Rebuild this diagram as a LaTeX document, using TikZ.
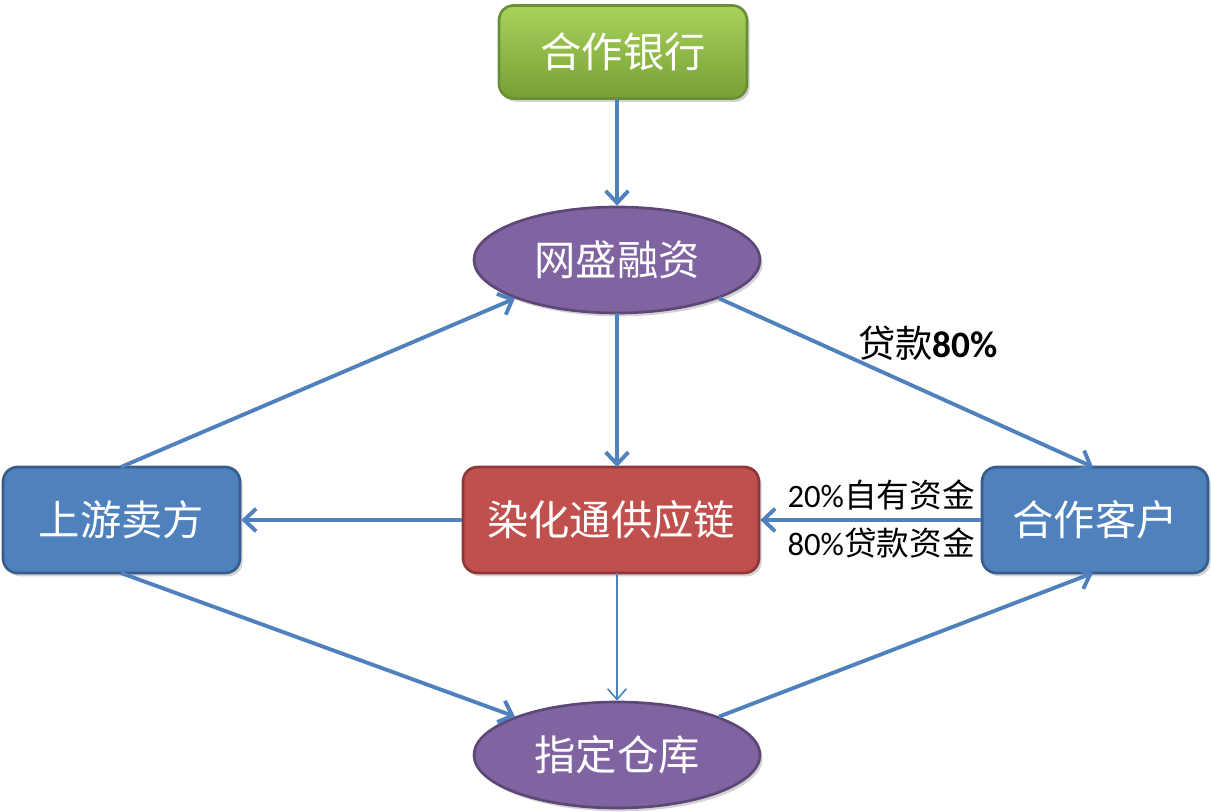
\documentclass[tikz,border=0pt]{standalone}
\usepackage{fontspec}
\setmainfont{Noto Sans CJK SC}
\newfontfamily\latinf{Carlito}
\usetikzlibrary{shapes.geometric,arrows.meta,shadows}
\definecolor{lnblue}{HTML}{4F81BD}
\definecolor{bxblue}{HTML}{4F81BD}
\definecolor{bdblue}{HTML}{385D8A}
\definecolor{bxred}{HTML}{C0504D}
\definecolor{bdred}{HTML}{8C3836}
\definecolor{bxpurple}{HTML}{8064A2}
\definecolor{bdpurple}{HTML}{5C4776}
\definecolor{grtop}{HTML}{A9D25C}
\definecolor{grbot}{HTML}{76A034}
\definecolor{bdgreen}{HTML}{6A8E35}
\tikzset{
  shad/.style={drop shadow={shadow xshift=2pt,shadow yshift=-2.5pt,opacity=0.35}},
  lab/.style={text=white,font=\fontsize{31}{34}\selectfont,inner sep=0pt},
  rbox/.style={lab,rectangle,rounded corners=11pt,line width=2pt,minimum height=79.5pt,shad},
  ell/.style={lab,ellipse,fill=bxpurple,draw=bdpurple,line width=2pt,minimum width=214.5pt,minimum height=79.5pt,shad},
  conn/.style={draw=lnblue,line width=2.9pt,-{Straight Barb[length=9pt,width=17pt,line width=2.9pt]}},
  thinconn/.style={draw=lnblue,line width=1.2pt,-{Straight Barb[length=8pt,width=14pt,line width=1.2pt]}},
  note/.style={text=black,inner sep=0pt,font=\fontsize{24.5}{27}\selectfont}
}
\begin{document}
\begin{tikzpicture}[x=0.75pt,y=-0.75pt]
\useasboundingbox (0,0) rectangle (1211,812);
\node[rbox,top color=grtop,bottom color=grbot,draw=bdgreen,minimum width=186pt,minimum height=69.75pt] (bank) at (623,52) {合作银行};
\node[ell] (ws) at (617,260) {网盛融资};
\node[rbox,fill=bxblue,draw=bdblue,minimum width=177.75pt] (up) at (121.5,520) {上游卖方};
\node[rbox,fill=bxred,draw=bdred,minimum width=222pt] (rh) at (611,520) {染化通供应链};
\node[rbox,fill=bxblue,draw=bdblue,minimum width=169.5pt] (cl) at (1095,520) {合作客户};
\node[ell] (wh) at (617,755) {指定仓库};

\coordinate (bankb) at (617,99);
\draw[conn] (bankb) -- (ws.north);
\coordinate (wsb) at (617,313);
\coordinate (rht) at (617,467);
\draw[conn] (wsb) -- (rht);
\coordinate (upt) at (121,467);
\draw[conn] (upt) -- (ws.south west);
\coordinate (clt) at (1093,467);
\draw[conn] (ws.south east) -- (clt);
\draw[conn] (cl.west) -- (rh.east);
\draw[conn] (rh.west) -- (up.east);
\coordinate (upb) at (121,573);
\draw[conn] (upb) -- (wh.north west);
\coordinate (rhb) at (617,573);
\draw[thinconn] (rhb) -- (wh.north);
\coordinate (clb) at (1093,573);
\draw[conn] (wh.north east) -- (clb);

\node[note,font=\fontsize{28}{30}\selectfont] (l1) at (928,343) {贷款{\latinf\bfseries 80\%}};
\node[note,anchor=east] (l2) at (975,495) {{\latinf 20\%}自有资金};
\node[note,anchor=east] (l3) at (975,543) {{\latinf 80\%}贷款资金};
\end{tikzpicture}
\end{document}
